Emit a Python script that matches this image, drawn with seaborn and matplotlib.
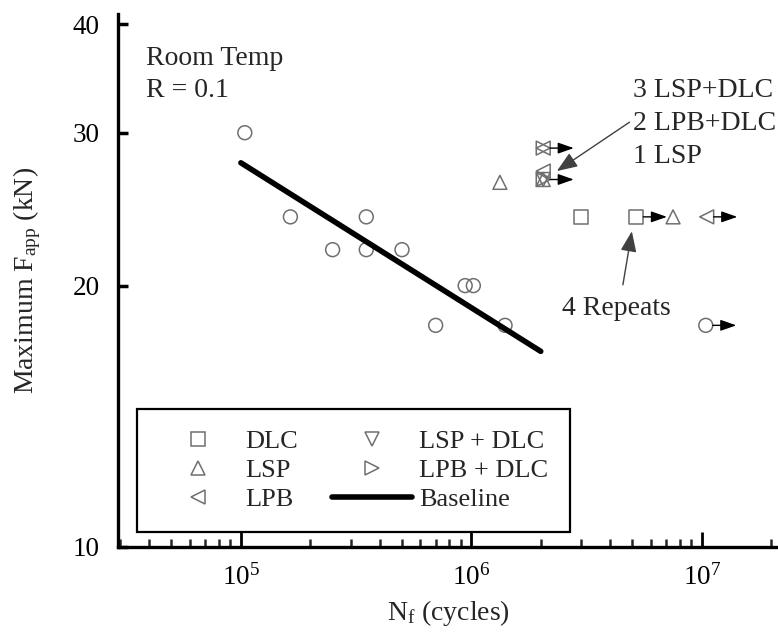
import numpy as np
import pandas as pd
import matplotlib
matplotlib.use("Agg")
import matplotlib.pyplot as plt
import matplotlib.transforms as mtransforms
from matplotlib.lines import Line2D
from matplotlib.ticker import FixedLocator, NullLocator, LogLocator, NullFormatter, FixedFormatter
import seaborn as sns

# ---- data ---------------------------------------------------------------
# untreated baseline specimens
base_cycles = [1.04e5, 1.64e5, 2.5e5, 3.5e5, 3.5e5, 5.0e5, 7.0e5, 9.4e5, 1.02e6, 1.4e6, 1.04e7]
base_load = [30, 24, 22, 24, 22, 22, 18, 20, 20, 18, 18]
base_runout = [False, False, False, False, False, False, False, False, False, False, True]

# surface-treated specimens
treat_name = ["LSP", "DLC", "DLC", "LSP", "LPB",
              "LPB + DLC", "LPB",
              "LSP + DLC", "LPB + DLC", "LSP", "LPB"]
treat_cycles = [1.33e6, 3.0e6, 5.2e6, 7.5e6, 1.05e7,
                2.05e6, 2.05e6,
                2.05e6, 2.05e6, 2.05e6, 2.05e6]
treat_load = [26.3, 24, 24, 24, 24,
              28.8, 28.8,
              26.5, 26.5, 26.5, 27.1]
treat_runout = [False, False, True, False, True,
                True, True,
                True, True, True, False]

# baseline fit line end points
fit_cycles = [1.0e5, 2.0e6]
fit_load = [27.7, 16.8]

legend_order = ["DLC", "LSP", "LPB", "LSP + DLC", "LPB + DLC"]
markers = {"DLC": "s", "LSP": "^", "LPB": "<", "LSP + DLC": "v", "LPB + DLC": ">"}

y_ticks = [10, 20, 30, 40]

# ---- style --------------------------------------------------------------
sns.set_style("ticks")
plt.rcParams["font.family"] = ["Liberation Serif", "DejaVu Serif"]
plt.rcParams["mathtext.fontset"] = "custom"
plt.rcParams["mathtext.rm"] = "Liberation Serif"
plt.rcParams["mathtext.it"] = "Liberation Serif:italic"
FS = 20
FS_TICK = 19.5
FS_LEG = 19
GREY = "#6f6f6f"

fig = plt.figure(figsize=(7.78, 6.32), dpi=100)
ax = fig.add_axes([118 / 778, 85 / 632, 660 / 778, 533 / 632])

base = pd.DataFrame({"cycles": base_cycles, "load": base_load, "runout": base_runout})
treated = pd.DataFrame({"treatment": treat_name, "cycles": treat_cycles,
                        "load": treat_load, "runout": treat_runout})

ax.set_xscale("log")
ax.set_yscale("log")

sns.scatterplot(data=base, x="cycles", y="load", marker="o", s=100,
                facecolor="none", edgecolor=GREY, linewidth=1.1, ax=ax,
                legend=False, zorder=3)
for name, grp in treated.groupby("treatment"):
    sns.scatterplot(data=grp, x="cycles", y="load", marker=markers[name], s=100,
                    facecolor="none", edgecolor=GREY, linewidth=1.1, ax=ax,
                    legend=False, zorder=3)

sns.lineplot(x=fit_cycles, y=fit_load, color="black", lw=4.0, ax=ax,
             solid_capstyle="round", zorder=4)

# run-out arrows
arrow_end = ax.transData + mtransforms.ScaledTranslation(22 / 72, 0, fig.dpi_scale_trans)
runouts = pd.concat([base[base.runout], treated[treated.runout]])
for cx, cy in runouts[["cycles", "load"]].drop_duplicates().itertuples(index=False):
    ax.annotate("", xy=(cx, cy), xycoords=arrow_end, xytext=(cx, cy), textcoords="data",
                arrowprops=dict(arrowstyle="-|>,head_length=0.8,head_width=0.28",
                                color="black", lw=1.0, shrinkA=5, shrinkB=0,
                                mutation_scale=12), zorder=5)

# ---- axes ---------------------------------------------------------------
ax.set_xlim(2.93e4, 2.14e7)
ax.set_ylim(10, 41.1)

ax.yaxis.set_major_locator(FixedLocator(y_ticks))
ax.yaxis.set_major_formatter(FixedFormatter([str(v) for v in y_ticks]))
ax.yaxis.set_minor_locator(NullLocator())
ax.xaxis.set_major_locator(LogLocator(base=10))
ax.xaxis.set_minor_locator(LogLocator(base=10, subs=np.arange(2, 10)))
ax.xaxis.set_minor_formatter(NullFormatter())

for side in ("top", "right"):
    ax.spines[side].set_visible(False)
for side in ("left", "bottom"):
    ax.spines[side].set_linewidth(2.4)
    ax.spines[side].set_color("black")

ax.tick_params(axis="x", which="major", direction="in", length=11, width=2.0,
               pad=12, labelsize=FS_TICK, colors="black")
ax.tick_params(axis="x", which="minor", direction="in", length=6, width=1.8)
ax.tick_params(axis="y", which="major", direction="in", length=7, width=2.5,
               pad=13, labelsize=FS_TICK, colors="black")

ax.set_xlabel(r"N$_\mathregular{f}$ (cycles)", fontsize=FS)
ax.set_ylabel(r"Maximum F$_\mathregular{app}$ (kN)", fontsize=FS)
ax.xaxis.label.set_va("center")
ax.yaxis.label.set_va("center")
ax.xaxis.set_label_coords(0.5, -0.124)
ax.yaxis.set_label_coords(-0.138, 0.5)

# ---- text ---------------------------------------------------------------
ax.text(0.043, 0.904, "Room Temp", transform=ax.transAxes, fontsize=FS, va="baseline")
ax.text(0.043, 0.844, "R = 0.1", transform=ax.transAxes, fontsize=FS, va="baseline")

for txt, yy in [("3 LSP+DLC", 0.844), ("2 LPB+DLC", 0.782), ("1 LSP", 0.720)]:
    ax.text(0.780, yy, txt, transform=ax.transAxes, fontsize=FS, va="baseline")

ax.annotate("", xy=(2.35e6, 27.1), xycoords="data",
            xytext=(0.775, 0.797), textcoords="axes fraction",
            arrowprops=dict(arrowstyle="-|>,head_length=0.9,head_width=0.35",
                            color="#404040", lw=1.0, shrinkA=0, shrinkB=0,
                            mutation_scale=14))

ax.text(0.673, 0.435, "4 Repeats", transform=ax.transAxes, fontsize=FS, va="baseline")
ax.annotate("", xy=(4.97e6, 23.1), xycoords="data",
            xytext=(0.765, 0.492), textcoords="axes fraction",
            arrowprops=dict(arrowstyle="-|>,head_length=0.9,head_width=0.35",
                            color="#404040", lw=1.0, shrinkA=0, shrinkB=0,
                            mutation_scale=14))

# ---- legend -------------------------------------------------------------
handles = [Line2D([], [], ls="none", marker=markers[n], ms=10, mfc="none",
                  mec=GREY, mew=1.1) for n in legend_order]
handles.append(Line2D([], [], color="black", lw=4.0))
labels = legend_order + ["Baseline"]
leg = ax.legend(handles, labels, ncol=2, loc="lower left",
                bbox_to_anchor=(0.029, 0.028), fontsize=FS_LEG, frameon=True,
                fancybox=False, shadow=False, borderaxespad=0,
                handlelength=3.0, handletextpad=0.3, columnspacing=1.3,
                labelspacing=0.2, borderpad=0.8)
leg.get_frame().set_edgecolor("black")
leg.get_frame().set_linewidth(1.6)
leg.get_frame().set_alpha(1)

fig.savefig("out.png", dpi=100)
